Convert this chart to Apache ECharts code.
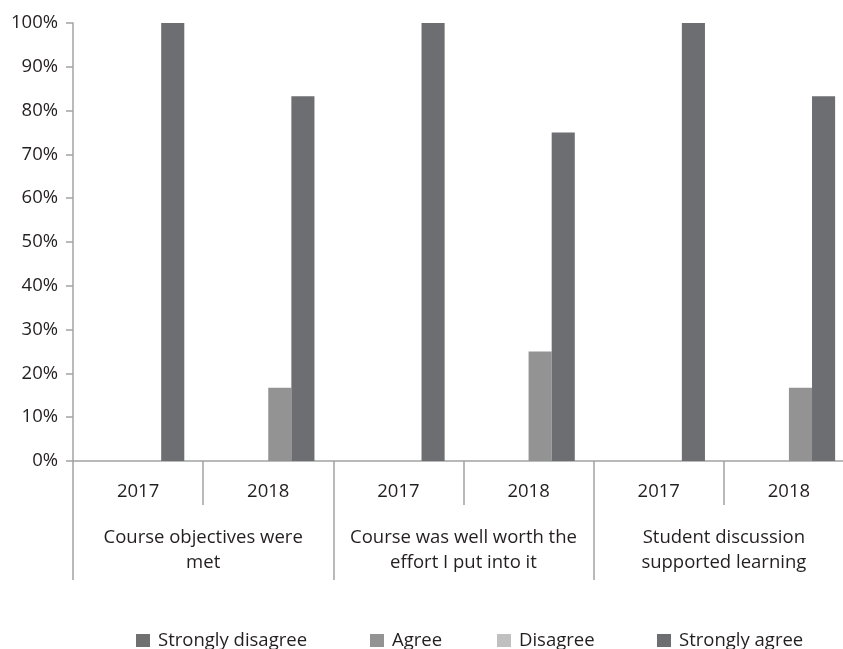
<!DOCTYPE html>
<html>
<head>
<meta charset="utf-8">
<script src="https://cdn.jsdelivr.net/npm/echarts@6/dist/echarts.min.js"></script>
<style>html,body{margin:0;padding:0;background:#fff}#c{width:843px;height:649px}</style>
</head>
<body>
<div id="c"></div>
<script>
const years = ['2017','2018','2017','2018','2017','2018'];
const groups = ['Course objectives were\nmet','Course was well worth the\neffort I put into it','Student discussion\nsupported learning'];
const seriesNames = ['Strongly disagree','Agree','Disagree','Strongly agree'];
const stronglyDisagree = [0,0,0,0,0,0];
const agree = [0,16.7,0,25,0,16.7];
const disagree = [0,0,0,0,0,0];
const stronglyAgree = [100,83.3,100,75,100,83.3];
const yTicks = [0,10,20,30,40,50,60,70,80,90,100];
const colors = {'Strongly disagree':'#707070','Agree':'#939393','Disagree':'#c0c0c0','Strongly agree':'#6d6e71'};
const seriesData = {'Strongly disagree':stronglyDisagree,'Agree':agree,'Disagree':disagree,'Strongly agree':stronglyAgree};
// drawing order of bars within each category (Agree sits next to Strongly agree)
const barOrder = ['Strongly disagree','Disagree','Agree','Strongly agree'];

const font = 'Open Sans';
const txt = '#231f20';
const axisCol = '#a3a3a3';
const fs = 18.5;
const chart = echarts.init(document.getElementById('c'), null, {renderer:'canvas'});
const legendLefts = [136, 370, 497, 657];
chart.setOption({
  animation:false,
  textStyle:{fontFamily:font},
  grid:{left:73, top:23, bottom:188, width:781, containLabel:false, outerBoundsMode:'none'},
  legend: seriesNames.map((n,i)=>({
    data:[n], left:legendLefts[i], top:631, padding:0, itemWidth:14, itemHeight:13, itemGap:8,
    icon:'rect', textStyle:{fontFamily:font, fontSize:fs, color:txt, padding:[0,0,0,3]}, selectedMode:false
  })),
  xAxis:[
    {type:'category', data:years, position:'bottom',
     axisLine:{show:true, lineStyle:{color:axisCol, width:1.5}},
     axisTick:{show:true, interval:0, length:44, lineStyle:{color:axisCol, width:1.5}},
     axisLabel:{interval:0, margin:21, fontSize:fs, color:txt, fontFamily:font}},
    {type:'category', data:groups, position:'bottom',
     axisLine:{show:false},
     axisTick:{show:true, interval:0, length:119, lineStyle:{color:axisCol, width:1.5}},
     axisLabel:{interval:0, margin:64, fontSize:fs, lineHeight:25, color:txt, fontFamily:font, align:'center'}}
  ],
  yAxis:{type:'value', min:yTicks[0], max:yTicks[yTicks.length-1], interval:10,
     splitLine:{show:false},
     axisLine:{show:true, lineStyle:{color:axisCol, width:1.5}},
     axisTick:{show:true, length:7, lineStyle:{color:axisCol, width:1.5}},
     axisLabel:{formatter:'{value}%', margin:15, fontSize:fs, color:txt, fontFamily:font}},
  series: barOrder.map(n=>({
    name:n, type:'bar', data:seriesData[n], xAxisIndex:0,
    barGap:'0%', barCategoryGap:'29%', itemStyle:{color:colors[n]}
  }))
});
</script>
</body>
</html>
